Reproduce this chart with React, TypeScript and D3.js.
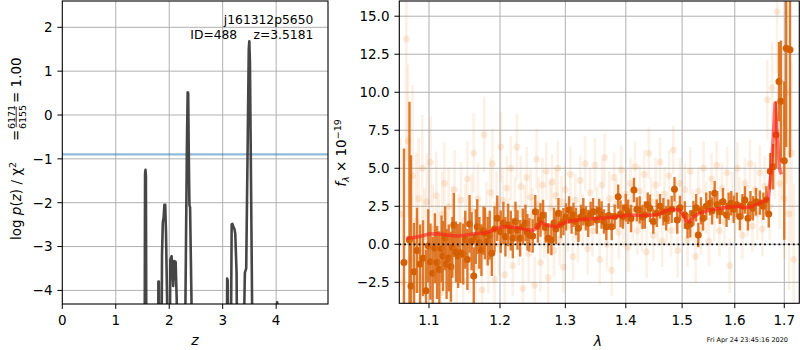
import * as d3 from 'd3';

// --- redshift fit: log p(z) ---
const zGrid = [0, 1.52, 1.535, 1.548, 1.556, 1.564, 1.58, 1.78, 1.79, 1.797, 1.806, 1.82, 1.85, 1.865, 1.88, 1.895, 1.91, 1.925, 1.94, 1.96, 1.98, 2.0, 2.02, 2.045, 2.075, 2.095, 2.12, 2.14, 2.17, 2.19, 2.27, 2.29, 2.33, 2.345, 2.355, 2.365, 2.378, 2.39, 2.42, 2.45, 2.47, 3.06, 3.075, 3.084, 3.095, 3.115, 3.14, 3.155, 3.168, 3.18, 3.2, 3.22, 3.235, 3.26, 3.29, 3.31, 3.37, 3.395, 3.415, 3.44, 3.47, 3.488, 3.498, 3.51, 3.53, 3.555, 3.575, 3.98, 3.995, 4.02, 4.035, 4.97];
const logPz = [-9, -9, -8, -1.35, -1.25, -1.4, -9, -9, -7, -3.8, -3.8, -7, -7, -3.2, -2.45, -2.35, -2.05, -2.05, -2.7, -4.2, -9, -9, -3.3, -3.22, -3.9, -3.33, -3.35, -4.2, -9, -9, -9, -6, -0.8, 0.52, 0.5, -0.8, -2.06, -2.1, -4.5, -9, -9, -9, -6, -3.73, -3.78, -9, -9, -5, -2.5, -2.48, -2.55, -2.6, -2.7, -3.6, -9, -9, -9, -5, -3.6, -3.5, -0.4, 1.5, 1.68, 1.2, -1.5, -5, -9, -9, -7, -4.27, -7, -9];
const pzLevel = -0.9;
const zTicks = [0, 1, 2, 3, 4];
const pzTicks = [-4, -3, -2, -1, 0, 1, 2];

// --- spectrum: binned points (dark) ---
const darkWave = [
  1.0668, 1.074, 1.076, 1.080, 1.084, 1.088, 1.092, 1.096, 1.099, 1.102,
  1.105, 1.108, 1.111, 1.114, 1.117, 1.119, 1.122, 1.124, 1.127, 1.130,
  1.132, 1.134, 1.137, 1.140, 1.143, 1.147, 1.150, 1.153, 1.156, 1.159,
  1.162, 1.165, 1.167, 1.170, 1.173, 1.176, 1.178, 1.182, 1.185, 1.188,
  1.192, 1.196, 1.201, 1.205, 1.208, 1.212, 1.216, 1.219, 1.223, 1.226,
  1.230, 1.234, 1.238, 1.241, 1.244, 1.249, 1.253, 1.257, 1.261, 1.265,
  1.269, 1.273, 1.278, 1.282, 1.285, 1.289, 1.293, 1.297, 1.301, 1.306,
  1.310, 1.313, 1.317, 1.321, 1.325, 1.329, 1.333, 1.337, 1.341, 1.345,
  1.351, 1.355, 1.359, 1.363, 1.367, 1.371, 1.376, 1.381, 1.387, 1.391,
  1.395, 1.400, 1.404, 1.409, 1.414, 1.419, 1.424, 1.429, 1.433, 1.438,
  1.442, 1.448, 1.454, 1.460, 1.466, 1.471, 1.475, 1.481, 1.486, 1.491,
  1.496, 1.505, 1.510, 1.515, 1.521, 1.526, 1.530, 1.535, 1.539, 1.545,
  1.552, 1.556, 1.561, 1.566, 1.571, 1.577, 1.584, 1.588, 1.593, 1.598,
  1.604, 1.610, 1.615, 1.620, 1.626, 1.631, 1.636, 1.642, 1.650, 1.657,
  1.663, 1.668, 1.671, 1.677, 1.683, 1.689, 1.693, 1.700, 1.704, 1.712,
];
const darkFlux = [
  -1.2, 0.28, -2.74, -1.8, -0.4, -1.3, -0.92, -3.05, -0.1, -1.14,
  -1.9, -0.26, -1.2, -1.65, -0.3, -0.77, 0.4, -1.3, -0.9, -1.47,
  -0.2, 1.27, -0.5, -0.77, -0.55, -0.64, 0.3, -1.0, 1.34, 0.2,
  -2.09, 0.5, 1.16, 0.1, -0.38, 0.9, 0.72, 0.2, 0.6, -0.59,
  1.0, 1.71, 0.83, 1.4, 0.5, 1.27, 0.9, 0.39, 1.5, 0.94,
  0.4, 1.16, 1.4, 0.8, 0.61, 0.55, 2.14, 1.2, 1.6, 1.93,
  1.1, 0.39, 0.28, 1.4, 1.0, 2.04, 1.3, 1.49, 1.8, 2.26,
  1.6, 1.93, 1.5, 1.05, 1.8, 2.14, 1.7, 1.38, 2.0, 2.14,
  1.6, 2.2, 1.93, 1.5, 1.16, 1.9, 1.16, 1.82, 3.13, 2.0,
  1.82, 2.4, 2.14, 1.7, 3.57, 2.3, 2.26, 1.8, 1.93, 2.6,
  2.37, 1.5, 2.04, 2.5, 2.14, 1.7, 2.14, 2.3, 3.62, 1.6,
  2.4, 1.93, 1.2, 1.34, 2.04, 2.4, 0.61, 2.2, 1.71, 2.5,
  2.7, 2.2, 3.36, 2.6, 2.14, 2.8, 1.93, 2.5, 2.7, 2.3,
  2.6, 1.82, 2.5, 2.91, 1.71, 2.6, 2.37, 2.8, 2.74, 2.5,
  2.91, 2.0, 4.8, 5.1, 7.2, 10.7, 9.4, 5.5, 12.9, 12.8,
];
const darkErr = [
  7.5, 9.1, 8.6, 3.2, 2.8, 2.6, 2.5, 2.7, 2.4, 2.5,
  2.4, 2.3, 2.4, 2.5, 2.2, 2.3, 2.1, 2.3, 2.2, 2.3,
  2.0, 2.1, 2.0, 2.1, 2.0, 2.0, 1.9, 2.0, 1.9, 1.9,
  1.9, 1.8, 1.8, 1.7, 1.7, 1.6, 1.7, 1.6, 1.6, 1.5,
  1.5, 1.5, 1.4, 1.4, 1.3, 1.4, 1.3, 1.3, 1.3, 1.3,
  1.2, 1.2, 1.2, 1.2, 1.1, 1.1, 1.1, 1.1, 1.1, 1.0,
  1.0, 1.0, 1.0, 1.0, 1.0, 1.0, 0.9, 0.9, 0.9, 0.9,
  0.9, 0.8, 0.9, 0.9, 0.8, 0.9, 0.8, 0.9, 0.8, 0.9,
  0.9, 0.8, 0.9, 0.8, 0.9, 0.8, 0.9, 0.8, 0.8, 0.9,
  0.8, 0.9, 0.8, 0.9, 0.8, 0.8, 0.9, 0.8, 0.9, 0.8,
  0.9, 0.8, 0.9, 0.8, 0.9, 0.8, 0.8, 0.9, 0.8, 0.9,
  0.8, 0.9, 0.8, 0.9, 0.8, 0.9, 0.8, 0.9, 0.8, 0.9,
  0.8, 0.9, 0.8, 0.9, 0.8, 0.9, 0.8, 0.9, 0.8, 0.9,
  0.8, 0.9, 0.8, 0.9, 0.8, 0.9, 0.8, 0.9, 0.8, 0.9,
  0.9, 0.9, 1.2, 1.5, 2.2, 2.6, 4.0, 5.2, 6.5, 7.1,
];

// --- spectrum: unbinned pixels (faint) ---
const faintWave = [
  1.062, 1.066, 1.070, 1.072, 1.075, 1.078, 1.081, 1.083, 1.086, 1.089,
  1.091, 1.094, 1.097, 1.100, 1.102, 1.105, 1.108, 1.110, 1.113, 1.116,
  1.118, 1.121, 1.124, 1.127, 1.129, 1.132, 1.135, 1.138, 1.141, 1.144,
  1.147, 1.150, 1.153, 1.156, 1.159, 1.162, 1.165, 1.168, 1.171, 1.174,
  1.177, 1.180, 1.183, 1.186, 1.189, 1.192, 1.195, 1.198, 1.201, 1.204,
  1.207, 1.210, 1.213, 1.216, 1.219, 1.222, 1.225, 1.228, 1.231, 1.234,
  1.237, 1.240, 1.243, 1.246, 1.249, 1.252, 1.255, 1.258, 1.261, 1.264,
  1.267, 1.270, 1.273, 1.276, 1.279, 1.282, 1.285, 1.288, 1.291, 1.294,
  1.297, 1.300, 1.304, 1.308, 1.312, 1.316, 1.320, 1.324, 1.328, 1.332,
  1.336, 1.340, 1.344, 1.348, 1.352, 1.356, 1.360, 1.364, 1.368, 1.372,
  1.376, 1.380, 1.384, 1.388, 1.392, 1.396, 1.400, 1.404, 1.408, 1.412,
  1.416, 1.420, 1.424, 1.428, 1.432, 1.436, 1.440, 1.444, 1.448, 1.452,
  1.456, 1.460, 1.464, 1.468, 1.472, 1.476, 1.480, 1.484, 1.488, 1.492,
  1.496, 1.500, 1.505, 1.510, 1.515, 1.520, 1.525, 1.530, 1.535, 1.540,
  1.545, 1.550, 1.555, 1.560, 1.565, 1.570, 1.575, 1.580, 1.585, 1.590,
  1.595, 1.600, 1.605, 1.610, 1.615, 1.620, 1.625, 1.630, 1.635, 1.640,
  1.645, 1.650, 1.655, 1.660, 1.665, 1.670, 1.675, 1.680, 1.685, 1.690,
  1.695, 1.700, 1.705, 1.710, 1.715, 1.720,
];
const faintFlux = [
  2.0, -2.5, 13.5, 6.8, -1.0, 4.5, -3.0, 1.5, 3.0, -2.2,
  5.0, 0.5, 2.8, -1.5, 5.4, 1.0, -2.0, 3.2, 0.2, -3.2,
  2.0, 4.0, -0.5, 2.5, -2.6, 1.2, 3.6, -1.8, 0.8, 2.9,
  -2.4, 1.6, 4.3, -0.8, 2.2, 6.0, -1.5, 3.0, 0.4, -3.0,
  7.2, 1.8, -1.0, 3.4, 5.3, -2.3, 2.6, 0.0, 6.4, 2.9,
  -2.0, 3.7, 1.0, 5.0, -1.4, 2.4, 6.4, 0.6, 3.8, -2.9,
  2.0, 4.4, -0.6, 3.1, 1.8, -2.7, 5.6, 2.6, -1.2, 3.9,
  0.9, 4.8, -2.2, 2.4, 4.1, -0.4, 3.2, 5.0, 0.3, 2.8,
  -1.5, 3.6, 1.2, 4.6, -0.8, 2.9, 0.5, 4.2, 1.6, 5.3,
  -0.3, 3.4, 0.9, 5.2, 2.2, -1.0, 3.9, 5.7, 0.0, 3.0,
  -1.7, 4.4, 2.6, 0.8, 4.9, 1.5, 3.3, -0.2, 4.0, 2.0,
  5.1, 0.9, 3.5, 1.3, 4.6, -0.5, 6.0, 2.8, 0.6, 3.9,
  1.8, 5.4, 0.2, 3.3, 1.5, 4.5, 0.9, 6.2, 2.6, -0.4,
  4.0, 1.7, 3.6, 0.3, 4.8, 1.9, -0.8, 3.5, 1.0, 5.0,
  2.4, 0.2, 4.3, 2.0, 5.2, 0.9, 3.7, 1.5, 4.7, -1.4,
  3.1, 1.8, 5.0, 2.6, 0.6, 4.0, 2.2, 5.3, 1.2, 3.6,
  2.0, 4.7, 1.0, 3.8, 9.5, 2.5, 10.3, 6.0, 15.3, 4.0,
  8.0, 3.0, 10.0, 2.0, 6.0, -1.0,
];
const faintErr = [
  5.0, 4.5, 8.0, 5.0, 4.0, 6.0, 3.8, 4.5, 4.0, 3.5,
  3.5, 3.2, 3.2, 3.0, 3.0, 2.9, 2.8, 2.9, 2.8, 2.7,
  2.8, 2.7, 2.7, 2.6, 2.6, 2.6, 2.6, 2.5, 2.5, 2.5,
  2.5, 2.4, 2.5, 2.4, 2.4, 2.6, 2.3, 2.4, 2.3, 2.3,
  2.5, 2.3, 2.2, 2.3, 2.3, 2.2, 2.2, 2.1, 2.3, 2.1,
  2.1, 2.1, 2.0, 2.1, 2.0, 2.0, 2.2, 2.0, 2.0, 2.0,
  1.9, 2.0, 1.9, 1.9, 1.9, 1.9, 2.0, 1.8, 1.9, 1.8,
  1.8, 1.9, 1.8, 1.8, 1.8, 1.8, 1.8, 1.8, 1.7, 1.7,
  1.7, 1.6, 1.7, 1.8, 1.6, 1.7, 1.7, 1.6, 1.7, 1.8,
  1.7, 1.6, 1.7, 1.8, 1.6, 1.7, 1.7, 1.6, 1.7, 1.8,
  1.7, 1.6, 1.7, 1.8, 1.6, 1.7, 1.7, 1.6, 1.7, 1.8,
  1.7, 1.6, 1.7, 1.8, 1.6, 1.7, 1.7, 1.6, 1.7, 1.8,
  1.7, 1.6, 1.7, 1.8, 1.6, 1.7, 1.7, 1.6, 1.7, 1.8,
  1.7, 1.6, 1.7, 1.8, 1.6, 1.7, 1.7, 1.6, 1.7, 1.8,
  1.7, 1.6, 1.7, 1.8, 1.6, 1.7, 1.7, 1.6, 1.7, 1.8,
  1.7, 1.6, 1.7, 1.8, 1.6, 1.7, 1.7, 1.6, 1.7, 1.8,
  1.7, 1.8, 1.8, 2.0, 2.6, 2.2, 3.0, 3.0, 4.0, 3.0,
  5.0, 4.0, 6.0, 5.0, 6.0, 5.0,
];

// --- best-fit model ---
const modelWave = [1.07, 1.08, 1.09, 1.10, 1.11, 1.12, 1.13, 1.14, 1.15, 1.16, 1.17, 1.18, 1.19, 1.20, 1.21, 1.22, 1.23, 1.24, 1.25, 1.255, 1.262, 1.268, 1.275, 1.285, 1.295, 1.30, 1.31, 1.32, 1.33, 1.35, 1.37, 1.39, 1.41, 1.43, 1.45, 1.46, 1.47, 1.48, 1.495, 1.503, 1.508, 1.513, 1.52, 1.53, 1.55, 1.57, 1.59, 1.61, 1.62, 1.63, 1.645, 1.66, 1.667, 1.672, 1.677, 1.681, 1.685, 1.69, 1.694];
const modelFlux = [0.42, 0.45, 0.55, 0.68, 0.7, 0.65, 0.58, 0.55, 0.6, 0.68, 0.72, 0.75, 0.95, 1.12, 1.15, 1.12, 1.05, 0.95, 0.92, 1.05, 1.45, 1.3, 1.22, 1.15, 1.35, 1.45, 1.55, 1.6, 1.65, 1.7, 1.75, 1.85, 1.92, 1.9, 1.92, 2.0, 2.2, 2.3, 2.25, 1.9, 1.55, 1.45, 1.75, 2.0, 2.25, 2.35, 2.45, 2.5, 2.4, 2.45, 2.65, 2.85, 3.0, 4.5, 7.0, 9.3, 7.5, 5.0, 4.6];

const lamTicks = [1.1, 1.2, 1.3, 1.4, 1.5, 1.6, 1.7];
const fluxTicks = [-2.5, 0, 2.5, 5, 7.5, 10, 12.5, 15];

const FONT = 'DejaVu Sans, sans-serif';

export default function App() {
  // left panel
  const L = { x0: 62.3, x1: 328, y0: 1, y1: 304 };
  const xZ = d3.scaleLinear().domain([0, 4.97]).range([L.x0, L.x1]);
  const yZ = d3.scaleLinear().domain([-4.31, 2.6]).range([L.y1, L.y0]);
  const pzLine = d3.line<number>().x((_, i) => xZ(zGrid[i])).y((v) => yZ(v));

  // right panel
  const R = { x0: 399.3, x1: 799.3, y0: 1, y1: 303.3 };
  const xL = d3.scaleLog().domain([1.0607, 1.7316]).range([R.x0, R.x1]);
  const yF = d3.scaleLinear().domain([-3.88, 16.0]).range([R.y1, R.y0]);
  const modelLine = d3.line<number>().x((_, i) => xL(modelWave[i])).y((v) => yF(v));

  const dark = darkWave.map((w, i) => ({ w, f: darkFlux[i], e: darkErr[i] }));
  const faint = faintWave.map((w, i) => ({ w, f: faintFlux[i], e: faintErr[i] }));
  const fmtF = d3.format('.1f');
  const fmtI = d3.format('d');

  return (
    <svg width={800} height={350} style={{ position: 'absolute', left: 0, top: 0, background: '#fff' }} fontFamily={FONT}>
      <defs>
        <clipPath id="clipL"><rect x={L.x0} y={L.y0} width={L.x1 - L.x0} height={L.y1 - L.y0} /></clipPath>
        <clipPath id="clipR"><rect x={R.x0} y={R.y0} width={R.x1 - R.x0} height={R.y1 - R.y0} /></clipPath>
      </defs>

      {/* ---------- left: p(z) ---------- */}
      <g>
        {zTicks.filter((t) => t > 0).map((t) => (
          <line key={'gz' + t} x1={xZ(t)} x2={xZ(t)} y1={L.y0} y2={L.y1} stroke="#b0b0b0" strokeWidth={1} />
        ))}
        {pzTicks.map((t) => (
          <line key={'gp' + t} x1={L.x0} x2={L.x1} y1={yZ(t)} y2={yZ(t)} stroke="#b0b0b0" strokeWidth={1} />
        ))}
        <line x1={L.x0} x2={L.x1} y1={yZ(pzLevel)} y2={yZ(pzLevel)} stroke="#1f77b4" strokeOpacity={0.5} strokeWidth={2.2} />
        <g clipPath="url(#clipL)">
          <path d={pzLine(logPz) || ''} fill="none" stroke="#3c3c3c" strokeOpacity={0.95} strokeWidth={2.6} strokeLinejoin="round" />
        </g>
        <rect x={L.x0} y={L.y0} width={L.x1 - L.x0} height={L.y1 - L.y0} fill="none" stroke="#000" strokeWidth={1.1} />
        {zTicks.map((t) => (
          <g key={'tz' + t}>
            <line x1={xZ(t)} x2={xZ(t)} y1={L.y1} y2={L.y1 + 4.9} stroke="#000" />
            <text x={xZ(t)} y={325} textAnchor="middle" fontSize={13.5}>{fmtI(t)}</text>
          </g>
        ))}
        {pzTicks.map((t) => (
          <g key={'tp' + t}>
            <line x1={L.x0 - 4.9} x2={L.x0} y1={yZ(t)} y2={yZ(t)} stroke="#000" />
            <text x={L.x0 - 9.8} y={yZ(t) + 4.8} textAnchor="end" fontSize={13.5}>{fmtI(t)}</text>
          </g>
        ))}
        <text x={195} y={345} textAnchor="middle" fontSize={14} fontStyle="italic">z</text>
        <text x={313.3} y={24} textAnchor="end" fontSize={12.3}>j161312p5650</text>
        <text x={190.3} y={38.5} fontSize={12.3}>ID=488</text>
        <text x={313.3} y={38.5} textAnchor="end" fontSize={12.3}>z=3.5181</text>
        <g transform="translate(21,240) rotate(-90)" fontSize={13.5}>
          <text x={0} y={0}>
            log <tspan fontStyle="italic">p</tspan>(<tspan fontStyle="italic">z</tspan>) / χ<tspan dy={-5} fontSize={9.5}>2</tspan>
          </text>
          <text x={99} y={0}>=</text>
          <text x={123} y={-6.5} textAnchor="middle" fontSize={9.5}>6171</text>
          <line x1={113} x2={133} y1={-4.8} y2={-4.8} stroke="#000" strokeWidth={0.8} />
          <text x={123} y={4.5} textAnchor="middle" fontSize={9.5}>6155</text>
          <text x={137} y={0}>= 1.00</text>
        </g>
      </g>

      {/* ---------- right: spectrum ---------- */}
      <g>
        {lamTicks.map((t) => (
          <line key={'gl' + t} x1={xL(t)} x2={xL(t)} y1={R.y0} y2={R.y1} stroke="#b0b0b0" strokeWidth={1} />
        ))}
        {fluxTicks.map((t) => (
          <line key={'gf' + t} x1={R.x0} x2={R.x1} y1={yF(t)} y2={yF(t)} stroke="#b0b0b0" strokeWidth={1} />
        ))}
        <g clipPath="url(#clipR)">
          {faint.map((d, i) => (
            <g key={'f' + i}>
              <line x1={xL(d.w)} x2={xL(d.w)} y1={yF(d.f - d.e)} y2={yF(d.f + d.e)} stroke="#f0882e" strokeOpacity={0.13} strokeWidth={2.6} />
              <circle cx={xL(d.w)} cy={yF(d.f)} r={3.4} fill="#e8802a" fillOpacity={0.16} />
            </g>
          ))}
          {dark.map((d, i) => (
            <g key={'d' + i}>
              <line x1={xL(d.w)} x2={xL(d.w)} y1={yF(d.f - d.e)} y2={yF(d.f + d.e)} stroke="#dc6d17" strokeOpacity={0.9} strokeWidth={2.4} />
              <circle cx={xL(d.w)} cy={yF(d.f)} r={3.5} fill="#d45f00" />
            </g>
          ))}
          <path d={modelLine(modelFlux) || ''} fill="none" stroke="#ff1a1a" strokeOpacity={0.6} strokeWidth={3.5} strokeLinejoin="round" />
          <line x1={R.x0} x2={R.x1} y1={yF(0)} y2={yF(0)} stroke="#000" strokeWidth={1.8} strokeDasharray="1.8 3" />
        </g>
        <rect x={R.x0} y={R.y0} width={R.x1 - R.x0} height={R.y1 - R.y0} fill="none" stroke="#000" strokeWidth={1.1} />
        {lamTicks.map((t) => (
          <g key={'tl' + t}>
            <line x1={xL(t)} x2={xL(t)} y1={R.y1} y2={R.y1 + 4.9} stroke="#000" />
            <text x={xL(t)} y={325} textAnchor="middle" fontSize={13.5}>{fmtF(t)}</text>
          </g>
        ))}
        {fluxTicks.map((t) => (
          <g key={'tf' + t}>
            <line x1={R.x0 - 4.9} x2={R.x0} y1={yF(t)} y2={yF(t)} stroke="#000" />
            <text x={R.x0 - 9.8} y={yF(t) + 4.8} textAnchor="end" fontSize={13.5}>{fmtF(t)}</text>
          </g>
        ))}
        <text x={598} y={346} textAnchor="middle" fontSize={14} fontStyle="italic">λ</text>
        <text transform="translate(346,153) rotate(-90)" textAnchor="middle" fontSize={13.5}>
          <tspan fontStyle="italic">f</tspan>
          <tspan dy={3} fontSize={9.5} fontStyle="italic">λ</tspan>
          <tspan dy={-3}> × 10</tspan>
          <tspan dy={-5} fontSize={9.5}>−19</tspan>
        </text>
        <text x={788} y={342} textAnchor="end" fontSize={6.5}>Fri Apr 24 23:45:16 2020</text>
      </g>
    </svg>
  );
}
